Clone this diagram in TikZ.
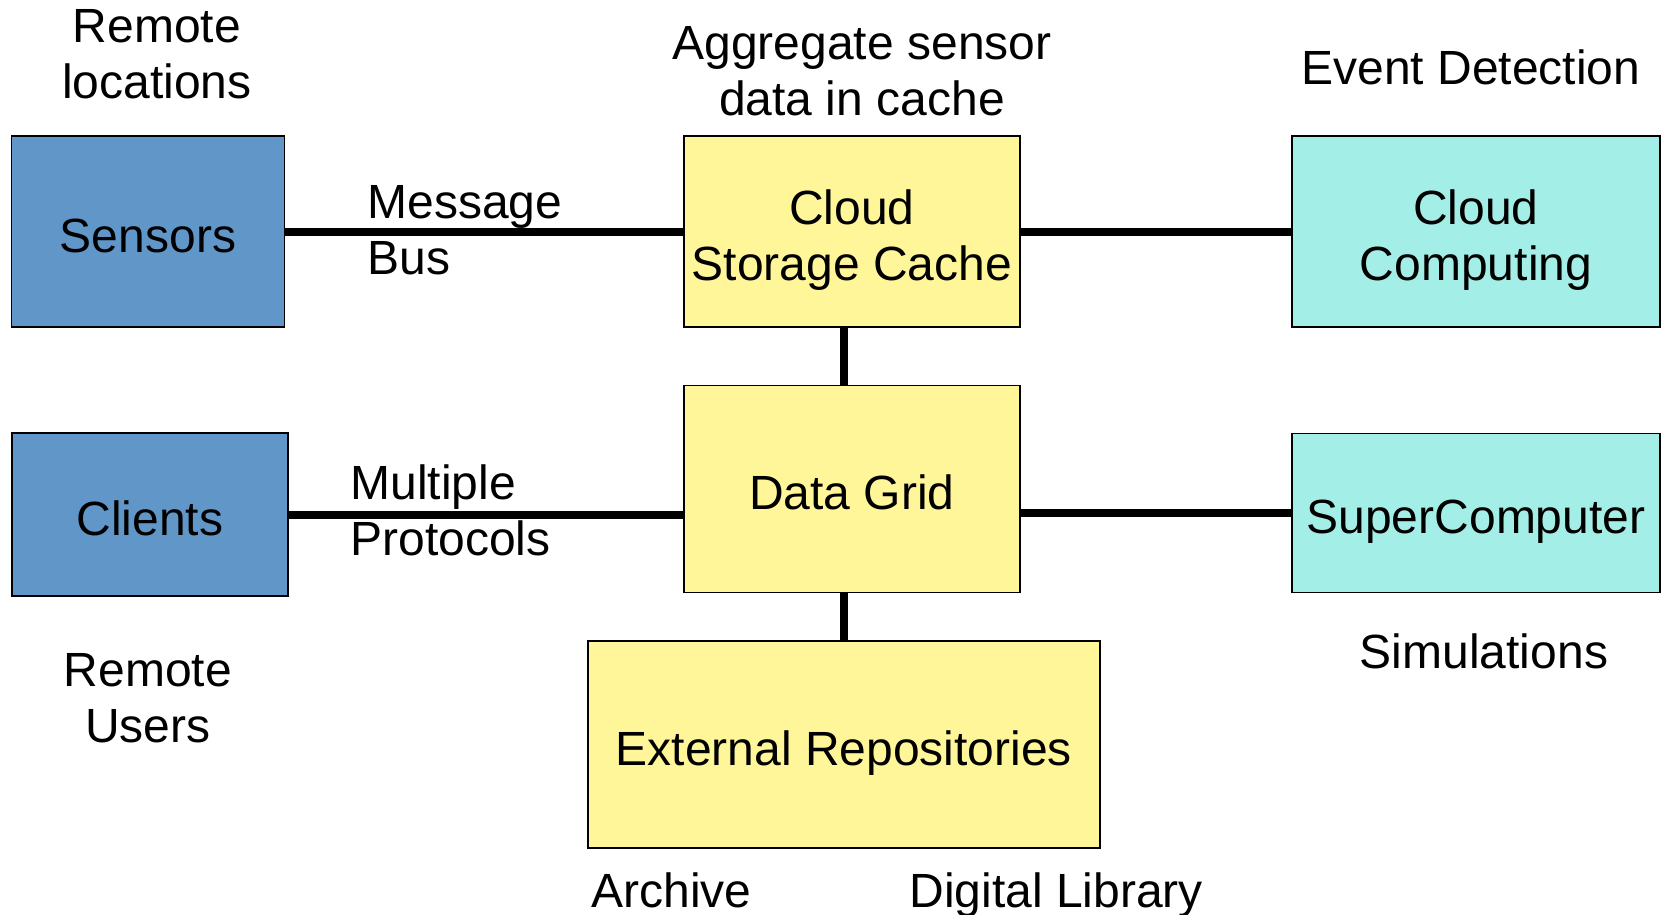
\documentclass[tikz,border=0pt]{standalone}
\usepackage{fontspec}
\setmainfont{Liberation Sans}
\usepackage{tikz}
\usetikzlibrary{positioning}
\definecolor{siteblue}{RGB}{97,150,200}
\definecolor{storeyellow}{RGB}{255,245,153}
\definecolor{computecyan}{RGB}{163,238,230}

\begin{document}
\begin{tikzpicture}[x=0.5pt, y=-0.5pt, font=\fontsize{24}{28}\selectfont]
    \tikzstyle{box} = [rectangle, draw=black, line width=0.8pt, align=center, inner sep=0pt, text height=20.5pt, text depth=0pt]
    \tikzstyle{twolines} = [text height=48.5pt]
    \tikzstyle{site} = [box, fill=siteblue]
    \tikzstyle{store} = [box, fill=storeyellow]
    \tikzstyle{compute} = [box, fill=computecyan]
    \tikzstyle{link} = [line width=4pt]
    \tikzstyle{note} = [align=center, inner sep=0pt]

    \useasboundingbox (0,0) rectangle (1665,915);

    % boxes
    \node (sensors) [site, minimum width=136.5pt, minimum height=95.5pt] at (148,231.5) {Sensors};
    \node (clients) [site, minimum width=138pt, minimum height=81.5pt] at (150,514.5) {Clients};
    \node (cache) [store, twolines, minimum width=168pt, minimum height=95.5pt] at (852,231.5) {Cloud\\Storage Cache};
    \node (grid) [store, minimum width=168pt, minimum height=103.5pt] at (852,489) {Data Grid};
    \node (repos) [store, minimum width=256pt, minimum height=103.5pt] at (844,744.5) {External Repositories};
    \node (cloudcomp) [compute, twolines, minimum width=184pt, minimum height=95.5pt] at (1476,231.5) {Cloud\\Computing};
    \node (supercomp) [compute, minimum width=184pt, minimum height=79.5pt] at (1476,513) {SuperComputer};

    % links
    \draw [link] (sensors.east) -- (cache.west);
    \draw [link] (cache.east) -- (cloudcomp.west);
    \draw [link] (clients.east) -- (clients.east -| grid.west);
    \draw [link] (grid.east |- supercomp.west) -- (supercomp.west);
    \draw [link] (cache.south -| repos.north) -- (grid.north -| repos.north);
    \draw [link] (grid.south -| repos.north) -- (repos.north);

    % notes
    \node (remoteloc) [note] at (157,54) {Remote\\locations};
    \node (aggregate) [note] at (862,71) {Aggregate sensor\\data in cache};
    \node (event) [note] at (1471,67) {Event Detection};
    \node (msgbus) [note, anchor=west, align=left] at (367,230) {Message\\Bus};
    \node (protocols) [note, anchor=west, align=left] at (350,510) {Multiple\\Protocols};
    \node (remoteusers) [note] at (148,698) {Remote\\Users};
    \node (simulations) [note] at (1484,651) {Simulations};
    \node (archive) [note, anchor=base west] at (591,907) {Archive};
    \node (diglib) [note, anchor=base west] at (909,907) {Digital Library};
\end{tikzpicture}
\end{document}
